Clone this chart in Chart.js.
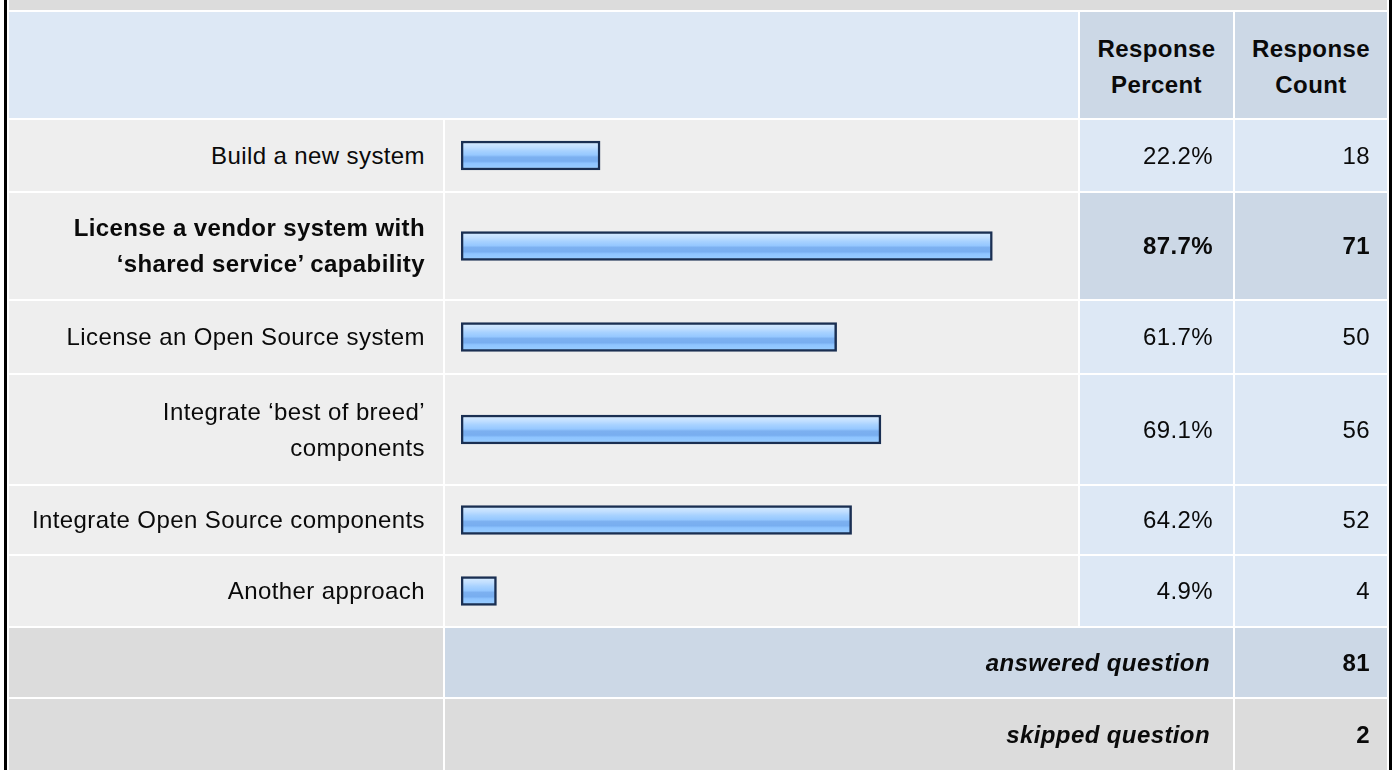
<!DOCTYPE html>
<html lang="en">
  <head>
    <meta charset="UTF-8" />
    <title>Response summary</title>
    <script src="https://cdn.jsdelivr.net/npm/chart.js"></script>
    <style>
      html, body { margin: 0; padding: 0; background: #fff; overflow: hidden; }
      body { width: 1396px; height: 770px; position: relative; font-family: "Liberation Sans", Arial, sans-serif; color: #0a0a0a; }
      #frame { position: absolute; left: 4px; top: 0; width: 1382px; height: 800px; border-left: 3px solid #000; border-right: 3px solid #000; }
      #summary { position: absolute; left: 0; top: -2px; border-collapse: separate; border-spacing: 2px; table-layout: fixed; width: 1382px; background: #fff; }
      #summary td { padding: 0; font-size: 24px; letter-spacing: 0.4px; line-height: 36px; vertical-align: middle; }
      .gray-top { background: #dcdcdc; height: 10px; }
      .head-blank { background: #dde8f5; }
      .head { background: #ccd8e6; font-weight: bold; text-align: center; padding-top: 4px !important; }
      .label { background: #eeeeee; text-align: right; padding-right: 18px !important; }
      .bar { background: #eeeeee; }
      .pct { background: #dde8f5; text-align: right; padding-right: 20px !important; }
      .cnt { background: #dde8f5; text-align: right; padding-right: 17px !important; }
      .hl { background: #ccd8e6; font-weight: bold; }
      .strong { font-weight: bold; }
      .foot-gray { background: #dcdcdc; }
      .foot-blue { background: #ccd8e6; }
      .foot-text { font-weight: bold; font-style: italic; text-align: right; padding-right: 23px !important; }
      canvas { display: block; }
    </style>
  </head>
  <body>
    <div id="frame">
      <table id="summary">
        <colgroup>
          <col style="width: 434px" />
          <col style="width: 633px" />
          <col style="width: 153px" />
          <col style="width: 152px" />
        </colgroup>
        <tbody id="rows">
          <tr><td class="gray-top" colspan="4"></td></tr>
          <tr style="height: 106px">
            <td class="head-blank" colspan="2"></td>
            <td class="head">Response<br />Percent</td>
            <td class="head">Response<br />Count</td>
          </tr>
        </tbody>
      </table>
    </div>

    <script>
      // Survey answers
      var answerLabels = [
        'Build a new system',
        'License a vendor system with\n\u2018shared service\u2019 capability',
        'License an Open Source system',
        'Integrate \u2018best of breed\u2019\ncomponents',
        'Integrate Open Source components',
        'Another approach'
      ];
      var responsePercent = [22.2, 87.7, 61.7, 69.1, 64.2, 4.9];
      var responseCount = [18, 71, 50, 56, 52, 4];
      var highlightIndex = 1;
      var answeredQuestion = 81;
      var skippedQuestion = 2;

      // layout of the rows (px)
      var rowHeights = [71, 106, 72, 109, 68, 70];
      var footHeights = [69, 72];

      var tbody = document.getElementById('rows');

      function barFill(context) {
        var chart = context.chart;
        var area = chart.chartArea;
        if (!area) return '#8cc4ff';
        var mid = (area.top + area.bottom) / 2;
        var g = chart.ctx.createLinearGradient(0, mid - 13, 0, mid + 13);
        g.addColorStop(0.0, '#d4eaff');
        g.addColorStop(0.18, '#c0deff');
        g.addColorStop(0.32, '#a8d2ff');
        g.addColorStop(0.48, '#96c8ff');
        g.addColorStop(0.56, '#7cb0f0');
        g.addColorStop(0.72, '#78aef0');
        g.addColorStop(0.8, '#8ec4ff');
        g.addColorStop(1.0, '#98ccff');
        return g;
      }

      answerLabels.forEach(function (label, i) {
        var tr = document.createElement('tr');
        tr.style.height = rowHeights[i] + 'px';
        var hl = i === highlightIndex;

        var tdLabel = document.createElement('td');
        tdLabel.className = 'label' + (hl ? ' strong' : '');
        tdLabel.innerHTML = label.replace('\n', '<br>');
        tr.appendChild(tdLabel);

        var tdBar = document.createElement('td');
        tdBar.className = 'bar';
        var canvas = document.createElement('canvas');
        canvas.width = 633;
        canvas.height = rowHeights[i];
        tdBar.appendChild(canvas);
        tr.appendChild(tdBar);

        var tdPct = document.createElement('td');
        tdPct.className = 'pct' + (hl ? ' hl' : '');
        tdPct.textContent = responsePercent[i].toFixed(1) + '%';
        tr.appendChild(tdPct);

        var tdCnt = document.createElement('td');
        tdCnt.className = 'cnt' + (hl ? ' hl' : '');
        tdCnt.textContent = responseCount[i];
        tr.appendChild(tdCnt);

        tbody.appendChild(tr);

        new Chart(canvas, {
          type: 'bar',
          data: {
            labels: [label],
            datasets: [{
              data: [responsePercent[i]],
              base: -1,
              backgroundColor: barFill,
              borderColor: '#1a2f52',
              borderWidth: 2.5,
              borderSkipped: false,
              barThickness: 29
            }]
          },
          options: {
            indexAxis: 'y',
            responsive: false,
            animation: false,
            layout: { padding: { left: 16, right: 12, top: 0, bottom: 0 } },
            plugins: { legend: { display: false }, tooltip: { enabled: false } },
            scales: {
              x: { display: false, min: -1.02, max: 100 },
              y: { display: false }
            }
          }
        });
      });

      // answered / skipped rows
      [['answered question', answeredQuestion, 'foot-blue'], ['skipped question', skippedQuestion, 'foot-gray']].forEach(function (f, k) {
        var tr = document.createElement('tr');
        tr.style.height = footHeights[k] + 'px';
        tr.innerHTML =
          '<td class="foot-gray"></td>' +
          '<td class="' + f[2] + ' foot-text" colspan="2">' + f[0] + '</td>' +
          '<td class="' + f[2] + ' cnt strong">' + f[1] + '</td>';
        tbody.appendChild(tr);
      });
    </script>
  </body>
</html>
